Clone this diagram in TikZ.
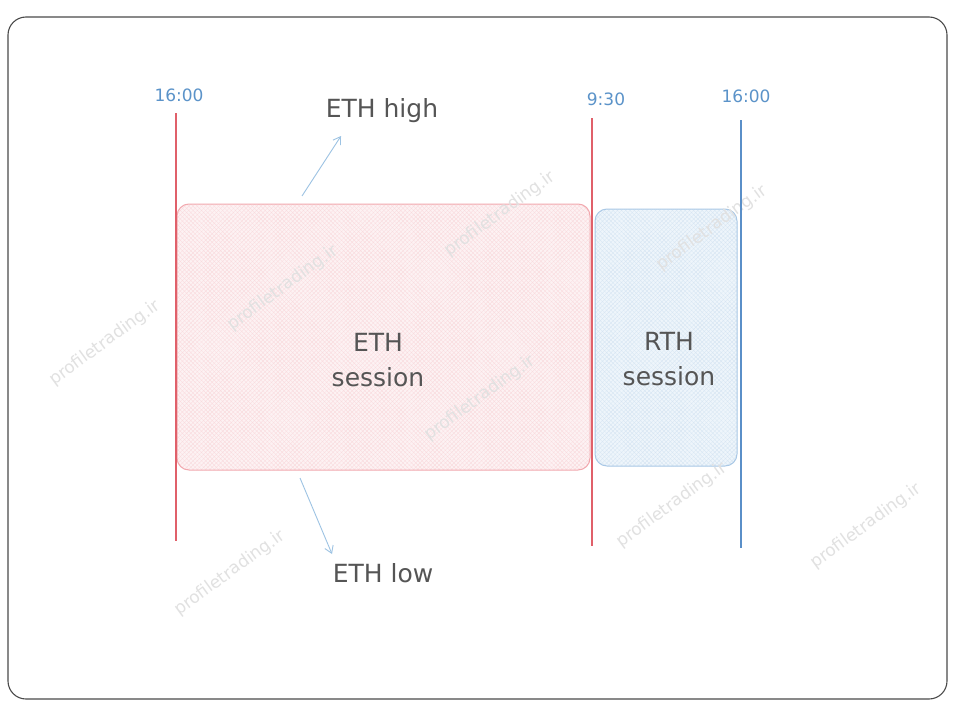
\documentclass[tikz,border=0pt]{standalone}
\usepackage{fontspec}
\setmainfont{DejaVu Sans}
\usetikzlibrary{patterns.meta,arrows.meta}
\definecolor{frameC}{HTML}{4A4A4A}
\definecolor{redL}{HTML}{E0606A}
\definecolor{blueL}{HTML}{5A8FC8}
\definecolor{blueT}{HTML}{5B93C9}
\definecolor{txt}{HTML}{555555}
\definecolor{redBox}{HTML}{F2A9AF}
\definecolor{redFill}{HTML}{FDF2F3}
\definecolor{blueBox}{HTML}{A9C8E6}
\definecolor{blueFill}{HTML}{EEF5FB}
\definecolor{arrC}{HTML}{9DC3E3}
\definecolor{wm}{HTML}{E1E1E1}
\tikzset{
  timelbl/.style={text=blueT, font=\fontsize{17}{19}\selectfont},
  maintxt/.style={text=txt, font=\fontsize{25}{27}\selectfont},
  boxtxt/.style={text=txt, font=\fontsize{25}{35}\selectfont, align=center},
  wmark/.style={text=wm, font=\fontsize{17}{19}\selectfont, rotate=36},
  vline/.style={line width=1.4pt},
  sessbox/.style={rounded corners=12pt, line width=1pt},
  pointer/.style={draw=arrC, line width=0.9pt, -{Straight Barb[length=7pt,width=9pt]}}
}
\begin{document}
\begin{tikzpicture}[x=1pt,y=-1pt]
\useasboundingbox (0,0) rectangle (963,709);
\fill[white] (0,0) rectangle (963,709);
\draw[frameC, line width=1.1pt, rounded corners=18pt] (8,17) rectangle (947,699);

% session boxes
\fill[redFill, rounded corners=12pt] (177,204) rectangle (590,470);
\path[rounded corners=12pt, pattern={Lines[angle=45,distance=3pt,line width=0.3pt]}, pattern color=redBox!45] (177,204) rectangle (590,470);
\path[rounded corners=12pt, pattern={Lines[angle=-45,distance=3pt,line width=0.3pt]}, pattern color=redBox!45] (177,204) rectangle (590,470);
\node[sessbox, draw=redBox, minimum width=413pt, minimum height=266pt, inner sep=0pt] (eth) at (383.5,337) {};

\fill[blueFill, rounded corners=12pt] (595,209) rectangle (737,466);
\path[rounded corners=12pt, pattern={Lines[angle=45,distance=3pt,line width=0.3pt]}, pattern color=blueBox!50] (595,209) rectangle (737,466);
\path[rounded corners=12pt, pattern={Lines[angle=-45,distance=3pt,line width=0.3pt]}, pattern color=blueBox!50] (595,209) rectangle (737,466);
\node[sessbox, draw=blueBox, minimum width=142pt, minimum height=257pt, inner sep=0pt] (rth) at (666,337.5) {};

\node[boxtxt] (ethtxt) at (378,360) {ETH\\session};
\node[boxtxt] (rthtxt) at (669,359) {RTH\\session};

% watermarks
\node[wmark] (w1) at (105,343) {profiletrading.ir};
\node[wmark] (w2) at (283,288) {profiletrading.ir};
\node[wmark] (w3) at (500,214) {profiletrading.ir};
\node[wmark] (w4) at (712,228) {profiletrading.ir};
\node[wmark] (w5) at (480,398) {profiletrading.ir};
\node[wmark] (w6) at (230,573) {profiletrading.ir};
\node[wmark] (w7) at (672,505) {profiletrading.ir};
\node[wmark] (w8) at (866,526) {profiletrading.ir};

% vertical lines
\coordinate (l1t) at (176,113); \coordinate (l1b) at (176,541);
\coordinate (l2t) at (592,118); \coordinate (l2b) at (592,546);
\coordinate (l3t) at (741,120); \coordinate (l3b) at (741,548);
\draw[vline, redL] (l1t) -- (l1b);
\draw[vline, redL] (l2t) -- (l2b);
\draw[vline, blueL] (l3t) -- (l3b);

\node[timelbl] (t1) at (179,95) {16:00};
\node[timelbl] (t2) at (606,99) {9:30};
\node[timelbl] (t3) at (746,96) {16:00};

% labels and arrows
\node[maintxt] (high) at (382,111) {ETH high};
\node[maintxt] (low) at (383,573) {ETH low};
\coordinate (a1s) at (302,196); \coordinate (a1e) at (341,136);
\coordinate (a2s) at (300,478); \coordinate (a2e) at (332,554);
\draw[pointer] (a1s) -- (a1e);
\draw[pointer] (a2s) -- (a2e);
\end{tikzpicture}
\end{document}
